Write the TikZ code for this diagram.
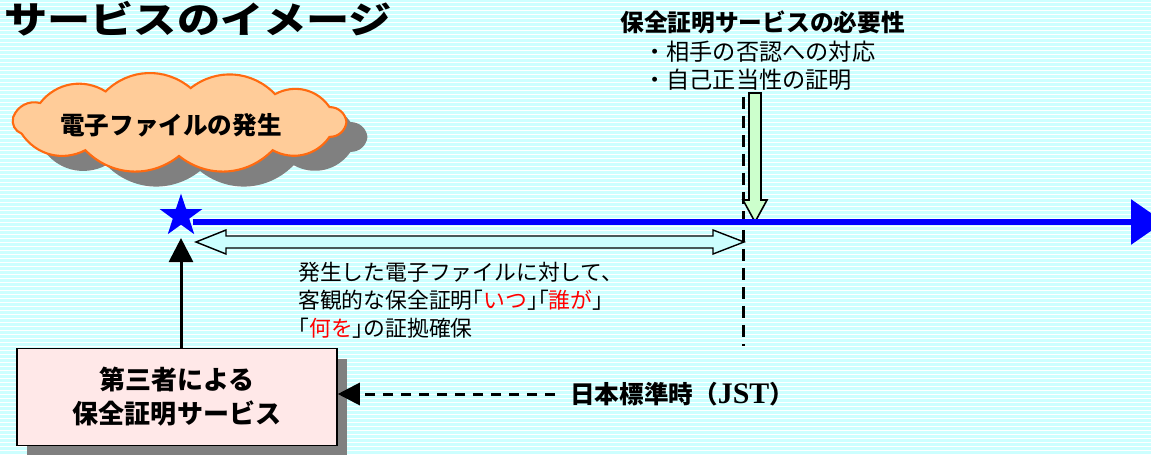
\documentclass[tikz,border=0pt]{standalone}
\usepackage{fontspec}
\setmainfont{Noto Sans CJK JP}
\newfontfamily\jstfont{Liberation Serif}
\usepackage{tikz}
\usetikzlibrary{arrows.meta,shapes.geometric,shadows,positioning}
\definecolor{bgcyan}{HTML}{CCFFFF}
\definecolor{cloudfill}{HTML}{FFCC99}
\definecolor{cloudline}{HTML}{FF6A10}
\definecolor{boxpink}{HTML}{FFE8E8}
\definecolor{needgreen}{HTML}{CCFFCC}
\definecolor{shadowgray}{HTML}{808080}
\tikzset{puffcloud/.pic={
  \begin{scope}[x=1cm,y=1cm]
  \path[pic actions] (0:3.35 and 0.68) \foreach \a in {26,55,86,116,146,172,200,236,270,304,334,360}{ to[bend right=42] (\a:3.35 and 0.68)} -- cycle;
  \end{scope}}}

\begin{document}
\begin{tikzpicture}[x=0.02cm,y=-0.02cm,
  txt/.style={inner sep=0pt,anchor=west,align=left,font=\fontsize{12.4pt}{15.9pt}\selectfont},
  grayshadow/.style={drop shadow={shadow xshift=#1,shadow yshift=-#1,fill=shadowgray,opacity=1}}]
\clip (0,0) rectangle (1151,455);
\fill[bgcyan] (0,0) rectangle (1151,455);
\foreach \y in {2.5,6.5,...,454.5}
  \draw[white,line width=0.022cm] (0,\y) -- (1151,\y);

% title
\node[inner sep=0pt,anchor=west,font=\fontsize{21pt}{21pt}\selectfont\bfseries\addfontfeature{FakeStretch=1.17}] (title) at (4,19) {サービスのイメージ};

% cloud
\pic[fill=shadowgray] at (200,137) {puffcloud};
\pic[fill=cloudfill,draw=cloudline,line width=1.2pt] at (179,122) {puffcloud};
\node[inner sep=0pt,font=\fontsize{14pt}{16pt}\selectfont\bfseries] (birthtext) at (171,125) {電子ファイルの発生};

% need
\node[inner sep=0pt,anchor=west,font=\fontsize{13.5pt}{16pt}\selectfont\bfseries] (need) at (620,22) {保全証明サービスの必要性};
\node[txt,font=\fontsize{13.2pt}{15.9pt}\selectfont] (needlist) at (643,66) {・相手の否認への対応\\・自己正当性の証明};

\draw[line width=0.06cm,dash pattern=on 0.24cm off 0.14cm] (743,97) -- (743,346);
\draw[fill=needgreen,line width=0.9pt] (749,93) -- (761,93) -- (761,200) -- (767,200) -- (755,222) -- (743,200) -- (749,200) -- cycle;

% timeline
\node[star,star points=5,star point ratio=2.6,minimum size=0.9cm,inner sep=0pt,fill=blue] (star) at (181,216) {};
\coordinate (lineend) at (1164,222);
\draw[blue,line width=0.12cm,-{Triangle[length=0.66cm,width=0.88cm]}] (star.east |- lineend) -- (lineend);

% span
\draw[fill=bgcyan,line width=0.8pt] (196,242) -- (226,230) -- (226,236) -- (713,236) -- (713,230) -- (744,242)
  -- (713,254) -- (713,248) -- (226,248) -- (226,254) -- cycle;
\node[txt,font=\fontsize{12.4pt}{15.9pt}\selectfont\addfontfeature{RawFeature=+halt}] (span) at (298,300) {発生した電子ファイルに対して、\\客観的な保全証明「\textcolor{red}{いつ}」「\textcolor{red}{誰が}」\\「\textcolor{red}{何を}」の証拠確保};

% service
\node[draw,line width=0.9pt,fill=boxpink,minimum width=6.4cm,minimum height=1.94cm,align=center,
  font=\fontsize{14.8pt}{19.3pt}\selectfont\bfseries,grayshadow=0.2cm] (service) at (177,397) {第三者による\\保全証明サービス};
\draw[line width=0.06cm,-{Triangle[length=0.48cm,width=0.48cm]},shorten >=0.26cm] (star.south |- service.north) -- (star.south);

% jst
\node[inner sep=0pt,anchor=west,font=\fontsize{14pt}{16pt}\selectfont\bfseries] (jst) at (570,394) {日本標準時（{\jstfont\fontsize{17pt}{17pt}\selectfont JST}）};
\draw[line width=0.06cm,dash pattern=on 0.2cm off 0.16cm,-{Triangle[length=0.44cm,width=0.44cm]},shorten <=0.3cm] (jst.west) -- (jst.west -| service.east);
\end{tikzpicture}
\end{document}
